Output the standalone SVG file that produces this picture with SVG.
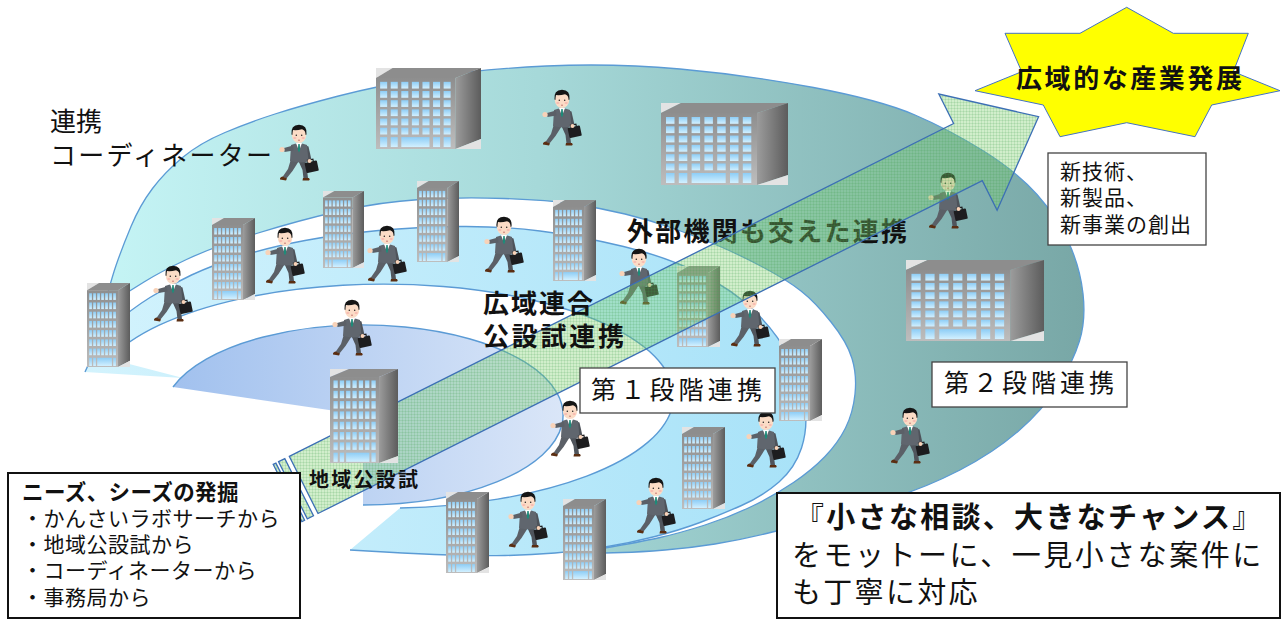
<svg xmlns="http://www.w3.org/2000/svg" xmlns:xlink="http://www.w3.org/1999/xlink" width="1284" height="619" viewBox="0 0 1284 619">
  <style>
    .t { font-family: "Liberation Sans", "Noto Sans CJK JP", sans-serif; fill: #111; }
    .b { font-weight: bold; }
    .edge { fill: none; stroke: #5b9bd5; stroke-width: 1.4; }
    .box { fill: #fff; stroke: #444; stroke-width: 1.3; }
    .frame { fill: #fff; stroke: #111; stroke-width: 2; }
    .win { fill: url(#gWin); }
  </style>
  <defs>
    <linearGradient id="gTeal" gradientUnits="userSpaceOnUse" x1="90" y1="300" x2="1085" y2="300">
      <stop offset="0" stop-color="#c6f5f6"/>
      <stop offset="0.45" stop-color="#a6d9d9"/>
      <stop offset="1" stop-color="#78a7a6"/>
    </linearGradient>
    <linearGradient id="gLight" gradientUnits="userSpaceOnUse" x1="85" y1="0" x2="808" y2="0">
      <stop offset="0" stop-color="#d3f3fd"/>
      <stop offset="1" stop-color="#a8e2f8"/>
    </linearGradient>
    <linearGradient id="gCore" gradientUnits="userSpaceOnUse" x1="165" y1="0" x2="563" y2="0">
      <stop offset="0" stop-color="#a0c0ee"/>
      <stop offset="1" stop-color="#dae6f8"/>
    </linearGradient>
    <linearGradient id="gFront" x1="0" y1="0" x2="0" y2="1">
      <stop offset="0" stop-color="#8e8e8e"/>
      <stop offset="1" stop-color="#bdbdbd"/>
    </linearGradient>
    <linearGradient id="gSide" x1="0" y1="0" x2="1" y2="0">
      <stop offset="0" stop-color="#9c9c9c"/>
      <stop offset="1" stop-color="#5c5c5c"/>
    </linearGradient>
    <linearGradient id="gWin" x1="0" y1="0" x2="0" y2="1">
      <stop offset="0" stop-color="#8dcdf6"/>
      <stop offset="1" stop-color="#d2f0ff"/>
    </linearGradient>
    <pattern id="grid" width="3" height="3" patternUnits="userSpaceOnUse">
      <rect width="3" height="3" fill="#7fd070" fill-opacity="0.36"/>
      <path d="M0,0.5H3M0.5,0V3" stroke="#3e9b46" stroke-opacity="0.15" stroke-width="1"/>
    </pattern>

    <!-- window rows -->
    <g id="rT">
      <rect class="win" x="2.2" y="0" width="2.7" height="6.5"/>
      <rect class="win" x="6.2" y="0" width="2.7" height="6.5"/>
      <rect class="win" x="10.2" y="0" width="2.7" height="6.5"/>
      <rect class="win" x="14.2" y="0" width="2.7" height="6.5"/>
      <rect class="win" x="18.2" y="0" width="2.7" height="6.5"/>
      <rect class="win" x="22.2" y="0" width="2.7" height="6.5"/>
      <rect class="win" x="26.2" y="0" width="2.7" height="6.5"/>
    </g>
    <g id="rW">
      <rect class="win" x="5" y="0" width="8.5" height="6.8"/>
      <rect class="win" x="17.8" y="0" width="8.5" height="6.8"/>
      <rect class="win" x="30.6" y="0" width="8.5" height="6.8"/>
      <rect class="win" x="43.4" y="0" width="8.5" height="6.8"/>
      <rect class="win" x="56.2" y="0" width="8.5" height="6.8"/>
      <rect class="win" x="69" y="0" width="8.5" height="6.8"/>
      <rect class="win" x="81.8" y="0" width="8.5" height="6.8"/>
    </g>

    <!-- tall office building -->
    <symbol id="bt" viewBox="0 0 43 82" preserveAspectRatio="none">
      <polygon points="0,0 12,0 0,7" fill="#e3e3e3"/>
      <polygon points="0,7 12,0 43,0 31,7" fill="#8d8d8d"/>
      <rect x="0" y="7" width="31" height="75" fill="url(#gFront)"/>
      <polygon points="31,7 43,0 43,76 31,82" fill="url(#gSide)"/>
      <polygon points="31,82 43,76 43,82" fill="#e3e3e3"/>
      <use href="#rT" y="10"/>
      <use href="#rT" y="19"/>
      <use href="#rT" y="28"/>
      <use href="#rT" y="37"/>
      <use href="#rT" y="46"/>
      <use href="#rT" y="55"/>
      <use href="#rT" y="64"/>
      <rect class="win" x="2.2" y="73" width="2.7" height="8"/>
      <rect class="win" x="6.2" y="73" width="2.7" height="8"/>
      <rect class="win" x="10.2" y="73" width="14.7" height="8"/>
      <rect class="win" x="26.2" y="73" width="2.7" height="8"/>
    </symbol>

    <!-- wide office building -->
    <symbol id="bw" viewBox="0 0 127 82" preserveAspectRatio="none">
      <polygon points="0,0 20,0 0,10" fill="#e3e3e3"/>
      <polygon points="0,10 20,0 127,0 96,10" fill="#8d8d8d"/>
      <rect x="0" y="10" width="96" height="72" fill="url(#gFront)"/>
      <polygon points="96,10 127,0 127,72 96,82" fill="url(#gSide)"/>
      <polygon points="96,82 127,72 127,82" fill="#e3e3e3"/>
      <use href="#rW" y="14"/>
      <use href="#rW" y="23.3"/>
      <use href="#rW" y="32.6"/>
      <use href="#rW" y="41.9"/>
      <use href="#rW" y="51.2"/>
      <use href="#rW" y="60.5"/>
      <rect class="win" x="5" y="70" width="8.5" height="10"/>
      <rect class="win" x="17.8" y="70" width="8.5" height="10"/>
      <rect class="win" x="30.6" y="70" width="34.1" height="10"/>
      <rect class="win" x="69" y="70" width="8.5" height="10"/>
      <rect class="win" x="81.8" y="70" width="8.5" height="10"/>
    </symbol>

    <!-- walking businessman with briefcase -->
    <symbol id="man" viewBox="0 0 42 58">
      <path d="M21,36 L28,35 L30,46 L31,54 L26.5,54.5 L25.5,46 Z" fill="#50555c"/>
      <path d="M26,54 L32,54 Q33.5,55.5 32,56.5 L25.5,56.5 Z" fill="#5b2e12"/>
      <path d="M14,35 L22.5,36 L15.5,47 L9.5,54.5 L5.5,53 L11,45 Z" fill="#5b6067"/>
      <path d="M5.5,52.5 L10,54.5 L9,56.5 L3,55.5 Q2.5,53.5 5.5,52.5 Z" fill="#5b2e12"/>
      <path d="M27,21 L31.5,22.5 L34.5,36 L30.5,37 Z" fill="#4e535a"/>
      <path d="M14,21 Q22,17.5 30,21 L31.5,37.5 Q22,39.5 13,37 Z" fill="#60666e"/>
      <path d="M19,19 L25,19 L22,27 Z" fill="#fff"/>
      <path d="M21.3,20 L22.7,20 L23.2,26 L22,28.5 L20.8,26 Z" fill="#1d8a78"/>
      <path d="M16,21.5 L7,24 L7.5,28 L16.5,26.5 Z" fill="#5b6067"/>
      <circle cx="5" cy="25.5" r="2.6" fill="#f8d2b8"/>
      <g transform="rotate(-12 35 43)">
        <rect x="28.5" y="37.5" width="12.5" height="10.5" rx="1" fill="#1d1d1f"/>
        <path d="M32,37.5 V35.5 H37.5 V37.5" fill="none" stroke="#1d1d1f" stroke-width="1.2"/>
      </g>
      <circle cx="32.5" cy="37" r="2" fill="#f8d2b8"/>
      <ellipse cx="22" cy="11" rx="7.2" ry="8" fill="#fbdcc6"/>
      <path d="M14.5,10.5 Q13.5,1 22,0.8 Q30.5,1 29.5,10.5 L28.6,11 Q28.5,6 25,5.2 Q20,6.5 16,6 Q15.5,8 15.4,11 Z" fill="#151515"/>
      <circle cx="19.3" cy="11.2" r="0.75" fill="#222"/>
      <circle cx="24.7" cy="11.2" r="0.75" fill="#222"/>
      <ellipse cx="17.8" cy="14" rx="1.6" ry="1" fill="#f5a3a3" opacity="0.6"/>
      <ellipse cx="26.2" cy="14" rx="1.6" ry="1" fill="#f5a3a3" opacity="0.6"/>
      <path d="M21,16 Q22,16.8 23,16" stroke="#b05050" stroke-width="0.7" fill="none"/>
    </symbol>
  </defs>

  <rect width="1284" height="619" fill="#fff"/>

  <!-- spiral bands -->
  <g id="spiral">
    <path id="band-outer" fill="url(#gTeal)" stroke="#5b9bd5" stroke-width="1.3"
      d="M98,330 Q110,283 116,265.5 Q122,248 131,226.5 Q140,205 152.5,188.5 Q165,172 182.5,157.5 Q200,143 225,132.5 Q250,122 275,114 Q300,106 338.5,96 Q377,86 428.5,77.5 Q480,69 546.5,66 Q613,63 680,69 Q747,75 813.5,87.5 Q880,100 915,115 Q950,130 983.5,151 Q1017,172 1037,194.5 Q1057,217 1068.5,242 Q1080,267 1083,293.5 Q1086,320 1079.5,341 Q1073,362 1058,386 Q1043,410 1018,431.5 Q993,453 960,470 Q927,487 893.5,497.5 Q860,508 826.5,517.5 Q793,527 766.5,533.5 Q740,540 715,544 Q690,548 665,550 Q640,552 622.5,552.5 L605,553 L605,548 Q640,542 660,537.5 Q680,533 705,525 Q730,517 752.5,506 Q775,495 793.5,482.5 Q812,470 825,456.5 Q838,443 845.5,428 Q853,413 855,394 Q857,375 852,358.5 Q847,342 831,322 Q815,302 801,291 Q787,280 763.5,267.5 Q740,255 720,246.5 Q700,238 675,229 Q650,220 625,214 Q600,208 573.5,204 Q547,200 503.5,198.5 Q460,197 420,199.5 Q380,202 340,211 Q300,220 256.5,233.5 Q213,247 186.5,259.5 Q160,272 144,282 L128,292 Z"/>
    <path id="band-middle" fill="url(#gLight)"
      d="M85,372 Q100,338 115,324 Q130,310 150,297.5 Q170,285 191.5,275 Q213,265 241.5,256 Q270,247 305,240.5 Q340,234 378.5,230.5 Q417,227 458.5,226.5 Q500,226 540,231 Q580,236 623.5,246.5 Q667,257 700,273.5 Q733,290 755,311.5 Q777,333 789.5,357.5 Q802,382 805,405 Q808,428 801.5,448 Q795,468 779,482 Q763,496 741.5,505.5 Q720,515 700,522.5 Q680,530 655,536.5 Q630,543 605,547 Q580,551 555,553 Q530,555 505,555.5 Q480,556 450,555 Q420,554 385,552 L350,550 L400,508 A290,112 0 1 0 110,359 L183,378 Z"/>
    <path class="edge"
      d="M85,372 Q100,338 115,324 Q130,310 150,297.5 Q170,285 191.5,275 Q213,265 241.5,256 Q270,247 305,240.5 Q340,234 378.5,230.5 Q417,227 458.5,226.5 Q500,226 540,231 Q580,236 623.5,246.5 Q667,257 700,273.5 Q733,290 755,311.5 Q777,333 789.5,357.5 Q802,382 805,405 Q808,428 801.5,448 Q795,468 779,482 Q763,496 741.5,505.5 Q720,515 700,522.5 Q680,530 655,536.5 Q630,543 605,547 Q580,551 555,553 Q530,555 505,555.5 Q480,556 450,555 Q420,554 385,552 L350,550"/>
    <path class="edge" d="M400,508 A290,112 0 1 0 110,359"/>
    <path id="band-core" fill="url(#gCore)" d="M363,415 L173,387 A200,90 0 1 1 363,505 Z"/>
    <path class="edge" stroke-width="1.8" d="M173,387 A200,90 0 1 1 363,505"/>
  </g>

  <!-- buildings -->
  <g id="buildings">
    <use href="#bt" x="87" y="283" width="43" height="84"/>
    <use href="#bt" x="212" y="218" width="43" height="82"/>
    <use href="#bt" x="323" y="191" width="41" height="77"/>
    <use href="#bt" x="417" y="181" width="42" height="81"/>
    <use href="#bt" x="553" y="200" width="43" height="81"/>
    <use href="#bt" x="677" y="266" width="43" height="81"/>
    <use href="#bt" x="779" y="339" width="43" height="82"/>
    <use href="#bt" x="682" y="427" width="43" height="82"/>
    <use href="#bt" x="446" y="492" width="43" height="81"/>
    <use href="#bt" x="563" y="499" width="43" height="81"/>
    <use href="#bw" x="376" y="68" width="105" height="81"/>
    <use href="#bw" x="661" y="103" width="127" height="82"/>
    <use href="#bw" x="906" y="260" width="138" height="81"/>
  </g>

  <!-- coordinators -->
  <g id="people">
    <use href="#man" x="277" y="124" width="42" height="58"/>
    <use href="#man" x="540" y="89" width="42" height="58"/>
    <use href="#man" x="151" y="265" width="42" height="58"/>
    <use href="#man" x="263" y="227" width="42" height="58"/>
    <use href="#man" x="365" y="225" width="42" height="58"/>
    <use href="#man" x="482" y="216" width="42" height="58"/>
    <use href="#man" x="330" y="299" width="42" height="58"/>
    <use href="#man" x="617" y="248" width="42" height="58"/>
    <use href="#man" x="728" y="290" width="42" height="58"/>
    <use href="#man" x="548" y="400" width="42" height="58"/>
    <use href="#man" x="744" y="411" width="42" height="58"/>
    <use href="#man" x="634" y="477" width="42" height="58"/>
    <use href="#man" x="506" y="491" width="42" height="58"/>
    <use href="#man" x="888" y="407" width="42" height="58"/>
    <use href="#man" x="926" y="172" width="42" height="58"/>
  </g>

  <g id="label-external">
    <text class="t b" x="627" y="241" font-size="26" textLength="280" lengthAdjust="spacing">外部機関も交えた連携</text>
  </g>

  <!-- striped arrow toward growth -->
  <g id="connectors">
    <g fill="url(#grid)" stroke="#3c6fb5" stroke-width="1.3" stroke-linejoin="miter">
      <path d="M289.3,456.3 L953.6,123.5 L938.8,94 L1038.6,116.7 L997.1,210.2 L982.3,180.7 L318,513.5 Z"/>
      <path d="M273.2,464.4 L275.9,463.1 L304.6,520.3 L301.9,521.6 Z"/>
      <path d="M278.6,461.7 L284.8,458.6 L313.5,515.8 L307.3,518.9 Z"/>
    </g>
  </g>

  <g id="node-local-lab">
    <use href="#bt" x="330" y="369" width="68" height="94"/>
    <text class="t b" x="309" y="487" font-size="20" textLength="109" lengthAdjust="spacing">地域公設試</text>
  </g>

  <g id="label-wide">
    <text class="t b" font-size="26">
      <tspan x="483" y="313" textLength="110" lengthAdjust="spacing">広域連合</tspan>
      <tspan x="483" y="346" textLength="141" lengthAdjust="spacing">公設試連携</tspan>
    </text>
  </g>

  <g id="label-coordinator">
    <text class="t" font-size="26">
      <tspan x="50" y="131">連携</tspan>
      <tspan x="50" y="165" textLength="222" lengthAdjust="spacing">コーディネーター</tspan>
    </text>
  </g>

  <g id="node-stage1">
    <rect class="box" x="580" y="368" width="195" height="45"/>
    <text class="t" x="591" y="399" font-size="25" textLength="171" lengthAdjust="spacing">第１段階連携</text>
  </g>

  <g id="node-stage2">
    <rect class="box" x="932" y="362" width="195" height="45"/>
    <text class="t" x="944" y="392" font-size="25" textLength="170" lengthAdjust="spacing">第２段階連携</text>
  </g>

  <g id="node-growth">
    <path d="M1126.7,7.3 L1173.3,33.3 L1248.3,33.3 L1233.3,71.7 L1280,90.7 L1211.7,105 L1195,136.7 L1126.7,122.7 L1060,136.7 L1043.3,105 L975,90.7 L1021.7,71.7 L1005,33.3 L1080,33.3 Z"
      fill="#ffff00" stroke="#4472c4" stroke-width="1"/>
    <text class="t b" x="1016" y="88" font-size="26" textLength="226" lengthAdjust="spacing">広域的な産業発展</text>
  </g>

  <g id="node-outcomes">
    <rect class="box" x="1048" y="153" width="158" height="92"/>
    <text class="t" font-size="21" letter-spacing="1">
      <tspan x="1060" y="179">新技術、</tspan>
      <tspan x="1060" y="205">新製品、</tspan>
      <tspan x="1060" y="232">新事業の創出</tspan>
    </text>
  </g>

  <g id="node-sources">
    <rect class="frame" x="8" y="473" width="292" height="145"/>
    <text class="t" font-size="21" letter-spacing="0.5">
      <tspan class="b" x="22" y="500" font-size="21.5" letter-spacing="0.4">ニーズ、シーズの発掘</tspan>
      <tspan x="22" y="526">・かんさいラボサーチから</tspan>
      <tspan x="22" y="552">・地域公設試から</tspan>
      <tspan x="22" y="578">・コーディネーターから</tspan>
      <tspan x="22" y="605">・事務局から</tspan>
    </text>
  </g>

  <g id="node-motto">
    <rect class="frame" x="777" y="493" width="503" height="125"/>
    <text class="t" font-size="29">
      <tspan x="795" y="528" letter-spacing="2.3">『<tspan class="b">小さな相談、大きなチャンス</tspan>』</tspan>
      <tspan x="792" y="566" letter-spacing="2.5">をモットーに、一見小さな案件に</tspan>
      <tspan x="792" y="603" letter-spacing="2.3">も丁寧に対応</tspan>
    </text>
  </g>
</svg>
